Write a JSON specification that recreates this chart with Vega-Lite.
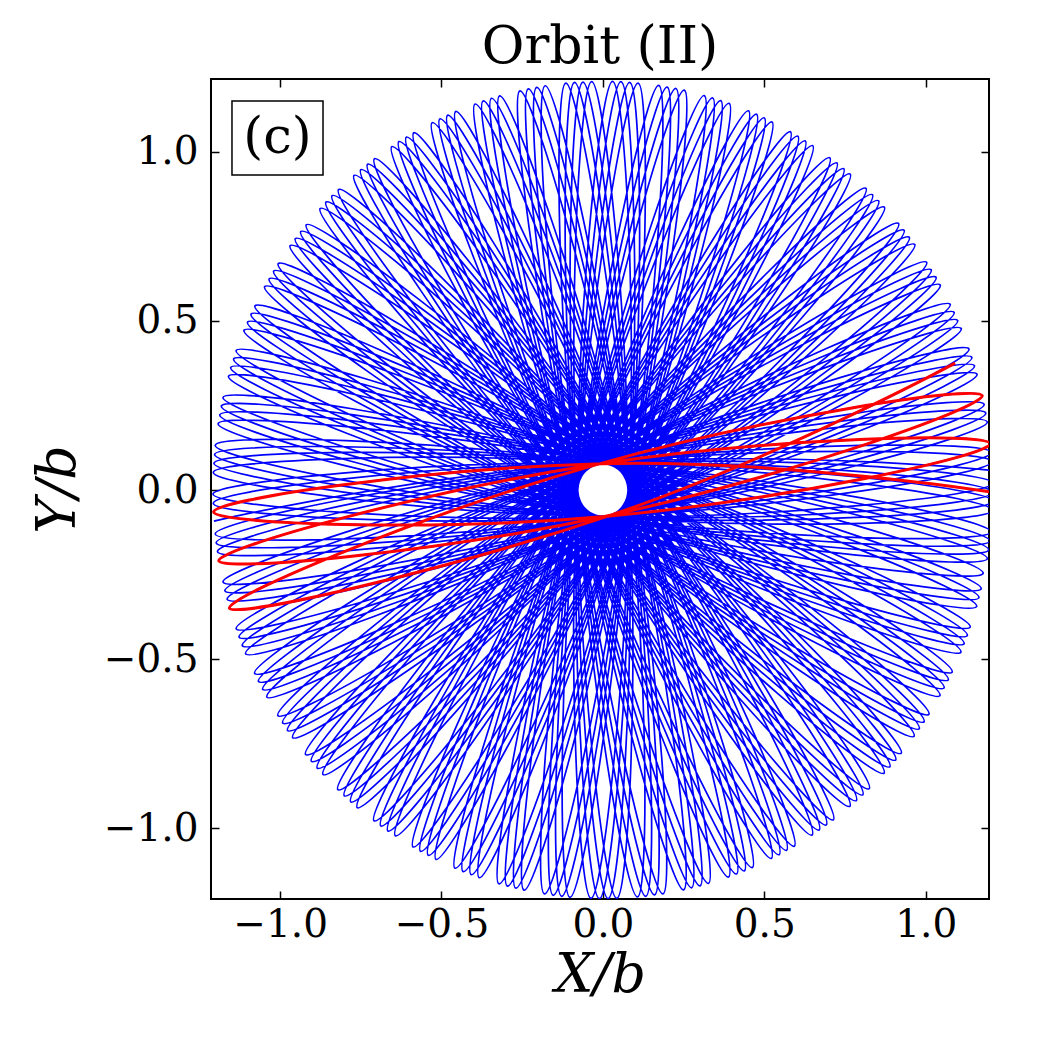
{
  "$schema": "https://vega.github.io/schema/vega-lite/v6.json",
  "width": 778,
  "height": 820,
  "autosize": "none",
  "padding": {"left": 211, "top": 79, "right": 61, "bottom": 151},
  "background": "white",
  "config": {
    "font": "DejaVu Serif",
    "view": {"stroke": "black", "strokeWidth": 2},
    "axis": {
      "grid": false,
      "domain": false,
      "ticks": true,
      "tickColor": "black",
      "tickWidth": 1.5,
      "tickSize": -8,
      "zindex": 1,
      "labelFont": "DejaVu Serif",
      "labelFontSize": 39,
      "labelColor": "black",
      "titleFont": "DejaVu Serif",
      "titleFontStyle": "italic",
      "titleFontWeight": "normal",
      "titleFontSize": 54,
      "titleColor": "black"
    }
  },
  "title": {
    "text": "Orbit (II)",
    "font": "DejaVu Serif",
    "fontSize": 52,
    "fontWeight": "normal",
    "color": "black",
    "anchor": "middle",
    "baseline": "alphabetic",
    "offset": -37
  },
  "datasets": {
    "orbit": [
      {"x":-1.205,"y":-0.092},{"x":-0.004,"y":0.078},
      {"x":1.208,"y":0.020},{"x":-0.001,"y":-0.078},
      {"x":-1.207,"y":0.052},{"x":0.006,"y":0.078},
      {"x":1.202,"y":-0.124},{"x":-0.010,"y":-0.077},
      {"x":-1.192,"y":0.196},{"x":0.015,"y":0.077},
      {"x":1.178,"y":-0.246},{"x":-0.018,"y":-0.076},
      {"x":-1.160,"y":0.336},{"x":0.024,"y":0.074},
      {"x":1.138,"y":-0.405},{"x":-0.028,"y":-0.073},
      {"x":-1.112,"y":0.472},{"x":0.033,"y":0.071},
      {"x":1.082,"y":-0.538},{"x":-0.037,"y":-0.069},
      {"x":-1.048,"y":0.601},{"x":0.041,"y":0.066},
      {"x":1.010,"y":-0.663},{"x":-0.045,"y":-0.064},
      {"x":-0.969,"y":0.722},{"x":0.048,"y":0.061},
      {"x":0.924,"y":-0.778},{"x":-0.052,"y":-0.058},
      {"x":-0.876,"y":0.832},{"x":0.055,"y":0.055},
      {"x":0.825,"y":-0.883},{"x":-0.059,"y":-0.052},
      {"x":-0.771,"y":0.930},{"x":0.061,"y":0.048},
      {"x":0.714,"y":-0.975},{"x":-0.064,"y":-0.044},
      {"x":-0.654,"y":1.015},{"x":0.067,"y":0.040},
      {"x":0.593,"y":-1.053},{"x":-0.069,"y":-0.036},
      {"x":-0.529,"y":1.086},{"x":0.071,"y":0.032},
      {"x":0.463,"y":-1.116},{"x":-0.073,"y":-0.028},
      {"x":-0.396,"y":1.141},{"x":0.074,"y":0.023},
      {"x":0.327,"y":-1.163},{"x":-0.076,"y":-0.019},
      {"x":-0.257,"y":1.180},{"x":0.077,"y":0.014},
      {"x":0.186,"y":-1.194},{"x":-0.077,"y":-0.010},
      {"x":-0.115,"y":1.203},{"x":0.078,"y":0.005},
      {"x":0.043,"y":-1.207},{"x":-0.078,"y":0.000},
      {"x":0.030,"y":1.208},{"x":0.078,"y":-0.004},
      {"x":-0.102,"y":-1.204},{"x":-0.077,"y":0.009},
      {"x":0.173,"y":1.196},{"x":0.077,"y":-0.013},
      {"x":-0.244,"y":-1.183},{"x":-0.076,"y":0.018},
      {"x":0.314,"y":1.166},{"x":0.075,"y":-0.022},
      {"x":-0.383,"y":-1.146},{"x":-0.073,"y":0.027},
      {"x":0.451,"y":1.121},{"x":0.071,"y":-0.031},
      {"x":-0.517,"y":-1.092},{"x":-0.069,"y":0.035},
      {"x":0.581,"y":1.059},{"x":0.067,"y":-0.039},
      {"x":-0.643,"y":-1.022},{"x":-0.065,"y":0.043},
      {"x":0.703,"y":0.982},{"x":0.062,"y":-0.047},
      {"x":-0.761,"y":-0.939},{"x":-0.059,"y":0.051},
      {"x":0.815,"y":0.892},{"x":0.056,"y":-0.054},
      {"x":-0.867,"y":-0.841},{"x":-0.053,"y":0.058},
      {"x":0.916,"y":0.788},{"x":0.049,"y":-0.061},
      {"x":-0.961,"y":-0.732},{"x":-0.045,"y":0.063},
      {"x":1.003,"y":0.673},{"x":0.042,"y":-0.066},
      {"x":-1.041,"y":-0.612},{"x":-0.037,"y":0.068},
      {"x":1.076,"y":0.549},{"x":0.033,"y":-0.070},
      {"x":-1.107,"y":-0.484},{"x":-0.029,"y":0.072},
      {"x":1.134,"y":0.417},{"x":0.025,"y":-0.074},
      {"x":-1.157,"y":-0.349},{"x":-0.020,"y":0.075},
      {"x":1.175,"y":0.279},{"x":0.016,"y":-0.076},
      {"x":-1.190,"y":-0.209},{"x":-0.011,"y":0.077},
      {"x":1.200,"y":0.137},{"x":0.007,"y":-0.078},
      {"x":-1.206,"y":-0.065},{"x":-0.002,"y":0.078},
      {"x":1.208,"y":-0.007},{"x":-0.003,"y":-0.078},
      {"x":-1.205,"y":0.079},{"x":0.007,"y":0.078},
      {"x":1.199,"y":-0.151},{"x":-0.012,"y":-0.077},
      {"x":-1.187,"y":0.222},{"x":0.017,"y":0.076},
      {"x":1.172,"y":-0.292},{"x":-0.021,"y":-0.075},
      {"x":-1.153,"y":0.362},{"x":0.026,"y":0.074},
      {"x":1.129,"y":-0.430},{"x":-0.030,"y":-0.072},
      {"x":-1.101,"y":0.496},{"x":0.034,"y":0.070},
      {"x":1.070,"y":-0.561},{"x":-0.038,"y":-0.068},
      {"x":-1.034,"y":0.624},{"x":0.042,"y":0.066},
      {"x":0.995,"y":-0.685},{"x":-0.046,"y":-0.063},
      {"x":-0.953,"y":0.743},{"x":0.050,"y":0.060},
      {"x":0.907,"y":-0.798},{"x":-0.053,"y":-0.057},
      {"x":-0.858,"y":0.851},{"x":0.057,"y":0.054},
      {"x":0.805,"y":-0.901},{"x":-0.060,"y":-0.050},
      {"x":-0.750,"y":0.947},{"x":0.063,"y":0.047},
      {"x":0.692,"y":-0.990},{"x":-0.065,"y":-0.043},
      {"x":-0.632,"y":1.030},{"x":0.068,"y":0.039},
      {"x":0.569,"y":-1.065},{"x":-0.070,"y":-0.035},
      {"x":-0.505,"y":1.097},{"x":0.072,"y":0.031},
      {"x":0.438,"y":-1.126},{"x":-0.073,"y":-0.026},
      {"x":-0.371,"y":1.150},{"x":0.075,"y":0.022},
      {"x":0.301,"y":-1.170},{"x":-0.076,"y":-0.017},
      {"x":-0.231,"y":1.186},{"x":0.077,"y":0.013},
      {"x":0.160,"y":-1.197},{"x":-0.078,"y":-0.008},
      {"x":-0.088,"y":1.205},{"x":0.078,"y":0.003},
      {"x":0.016,"y":-1.208},{"x":-0.078,"y":0.001},
      {"x":0.056,"y":1.207},{"x":0.078,"y":-0.006},
      {"x":-0.128,"y":-1.201},{"x":-0.077,"y":0.011},
      {"x":0.199,"y":1.191},{"x":0.076,"y":-0.015},
      {"x":-0.270,"y":-1.177},{"x":-0.075,"y":0.020},
      {"x":0.340,"y":1.159},{"x":0.074,"y":-0.024},
      {"x":-0.408,"y":-1.137},{"x":-0.073,"y":0.028},
      {"x":0.476,"y":1.111},{"x":0.071,"y":-0.033},
      {"x":-0.541,"y":-1.080},{"x":-0.069,"y":0.037},
      {"x":0.604,"y":1.046},{"x":0.066,"y":-0.041},
      {"x":-0.666,"y":-1.008},{"x":-0.064,"y":0.045},
      {"x":0.725,"y":0.967},{"x":0.061,"y":-0.049},
      {"x":-0.781,"y":-0.922},{"x":-0.058,"y":0.052},
      {"x":0.835,"y":0.873},{"x":0.055,"y":-0.056},
      {"x":-0.885,"y":-0.822},{"x":-0.051,"y":0.059},
      {"x":0.933,"y":0.768},{"x":0.048,"y":-0.062},
      {"x":-0.977,"y":-0.711},{"x":-0.044,"y":0.064},
      {"x":1.017,"y":0.651},{"x":0.040,"y":-0.067},
      {"x":-1.054,"y":-0.589},{"x":-0.036,"y":0.069},
      {"x":1.088,"y":0.525},{"x":0.032,"y":-0.071},
      {"x":-1.117,"y":-0.460},{"x":-0.028,"y":0.073},
      {"x":1.143,"y":0.392},{"x":0.023,"y":-0.074},
      {"x":-1.164,"y":-0.323},{"x":-0.019,"y":0.076},
      {"x":1.181,"y":0.253},{"x":0.014,"y":-0.077},
      {"x":-1.194,"y":-0.182},{"x":-0.009,"y":0.077},
      {"x":1.203,"y":0.111},{"x":0.005,"y":-0.078},
      {"x":-1.207,"y":-0.039},{"x":0.000,"y":0.078},
      {"x":1.208,"y":-0.033},{"x":-0.004,"y":-0.078},
      {"x":-1.203,"y":0.105},{"x":0.009,"y":0.077},
      {"x":1.195,"y":-0.177},{"x":-0.014,"y":-0.077},
      {"x":-1.182,"y":0.248},{"x":0.018,"y":0.076},
      {"x":1.165,"y":-0.318},{"x":-0.023,"y":-0.075},
      {"x":-1.144,"y":0.387},{"x":0.027,"y":0.073},
      {"x":1.119,"y":-0.454},{"x":-0.031,"y":-0.071},
      {"x":-1.090,"y":0.520},{"x":0.036,"y":0.069},
      {"x":1.057,"y":-0.585},{"x":-0.040,"y":-0.067},
      {"x":-1.020,"y":0.647},{"x":0.044,"y":0.065},
      {"x":0.980,"y":-0.706},{"x":-0.047,"y":-0.062},
      {"x":-0.936,"y":0.764},{"x":0.051,"y":0.059},
      {"x":0.889,"y":-0.818},{"x":-0.054,"y":-0.056},
      {"x":-0.839,"y":0.870},{"x":0.058,"y":0.052},
      {"x":0.785,"y":-0.918},{"x":-0.061,"y":-0.049},
      {"x":-0.729,"y":0.963},{"x":0.064,"y":0.045},
      {"x":0.670,"y":-1.005},{"x":-0.066,"y":-0.041},
      {"x":-0.609,"y":1.043},{"x":0.068,"y":0.037},
      {"x":0.546,"y":-1.078},{"x":-0.071,"y":-0.033},
      {"x":-0.481,"y":1.108},{"x":0.072,"y":0.029},
      {"x":0.414,"y":-1.135},{"x":-0.074,"y":-0.025},
      {"x":-0.345,"y":1.158},{"x":0.075,"y":0.020},
      {"x":0.275,"y":-1.176},{"x":-0.076,"y":-0.016},
      {"x":-0.205,"y":1.190},{"x":0.077,"y":0.011},
      {"x":0.133,"y":-1.201},{"x":-0.078,"y":-0.006},
      {"x":-0.062,"y":1.206},{"x":0.078,"y":0.002},
      {"x":-0.011,"y":-1.208},{"x":-0.078,"y":0.003},
      {"x":0.083,"y":1.205},{"x":0.078,"y":-0.008},
      {"x":-0.154,"y":-1.198},{"x":-0.077,"y":0.012},
      {"x":0.226,"y":1.187},{"x":0.076,"y":-0.017},
      {"x":-0.296,"y":-1.171},{"x":-0.075,"y":0.021},
      {"x":0.365,"y":1.151},{"x":0.074,"y":-0.026},
      {"x":-0.433,"y":-1.128},{"x":-0.072,"y":0.030},
      {"x":0.500,"y":1.100},{"x":0.070,"y":-0.034},
      {"x":-0.565,"y":-1.068},{"x":-0.068,"y":0.038},
      {"x":0.627,"y":1.032},{"x":0.065,"y":-0.042},
      {"x":-0.688,"y":-0.993},{"x":-0.063,"y":0.046},
      {"x":0.746,"y":0.950},{"x":0.060,"y":-0.050},
      {"x":-0.801,"y":-0.904},{"x":-0.057,"y":0.053},
      {"x":0.854,"y":0.855},{"x":0.054,"y":-0.057},
      {"x":-0.903,"y":-0.802},{"x":-0.050,"y":0.060},
      {"x":0.949,"y":0.747},{"x":0.046,"y":-0.063},
      {"x":-0.992,"y":-0.689},{"x":-0.043,"y":0.065},
      {"x":1.032,"y":0.629},{"x":0.039,"y":-0.068},
      {"x":-1.067,"y":-0.566},{"x":-0.035,"y":0.070},
      {"x":1.099,"y":0.501},{"x":0.030,"y":-0.072},
      {"x":-1.127,"y":-0.435},{"x":-0.026,"y":0.074},
      {"x":1.151,"y":0.367},{"x":0.021,"y":-0.075},
      {"x":-1.171,"y":-0.298},{"x":-0.017,"y":0.076},
      {"x":1.186,"y":0.227},{"x":0.012,"y":-0.077},
      {"x":-1.198,"y":-0.156},{"x":-0.008,"y":0.078},
      {"x":1.205,"y":0.084},{"x":0.003,"y":-0.078},
      {"x":-1.208,"y":-0.012},{"x":0.002,"y":0.078},
      {"x":1.207,"y":-0.060},{"x":-0.006,"y":-0.078},
      {"x":-1.201,"y":0.132},{"x":0.011,"y":0.077},
      {"x":1.191,"y":-0.203},{"x":-0.015,"y":-0.076},
      {"x":-1.177,"y":0.274},{"x":0.020,"y":0.075},
      {"x":1.158,"y":-0.344},{"x":-0.024,"y":-0.074},
      {"x":-1.136,"y":0.412},{"x":0.029,"y":0.072},
      {"x":1.109,"y":-0.479},{"x":-0.033,"y":-0.071},
      {"x":-1.078,"y":0.544},{"x":0.037,"y":0.069},
      {"x":1.044,"y":-0.608},{"x":-0.041,"y":-0.066},
      {"x":-1.006,"y":0.669},{"x":0.045,"y":0.064},
      {"x":0.964,"y":-0.728},{"x":-0.049,"y":-0.061},
      {"x":-0.919,"y":0.784},{"x":0.052,"y":0.058},
      {"x":0.871,"y":-0.837},{"x":-0.056,"y":-0.055},
      {"x":-0.819,"y":0.888},{"x":0.059,"y":0.051},
      {"x":0.765,"y":-0.935},{"x":-0.062,"y":-0.048},
      {"x":-0.708,"y":0.979},{"x":0.065,"y":0.044},
      {"x":0.648,"y":-1.020},{"x":-0.067,"y":-0.040},
      {"x":-0.586,"y":1.056},{"x":0.069,"y":0.036},
      {"x":0.522,"y":-1.089},{"x":-0.071,"y":-0.032},
      {"x":-0.456,"y":1.119},{"x":0.073,"y":0.027},
      {"x":0.389,"y":-1.144},{"x":-0.075,"y":-0.023},
      {"x":-0.320,"y":1.165},{"x":0.076,"y":0.018},
      {"x":0.250,"y":-1.182},{"x":-0.077,"y":-0.014},
      {"x":-0.179,"y":1.195},{"x":0.077,"y":0.009},
      {"x":0.107,"y":-1.203},{"x":-0.078,"y":-0.005},
      {"x":-0.035,"y":1.207},{"x":0.078,"y":0.000},
      {"x":-0.037,"y":-1.207},{"x":-0.078,"y":0.005},
      {"x":0.109,"y":1.203},{"x":0.077,"y":-0.009},
      {"x":-0.181,"y":-1.194},{"x":-0.077,"y":0.014},
      {"x":0.252,"y":1.182},{"x":0.076,"y":-0.019},
      {"x":-0.322,"y":-1.164},{"x":-0.075,"y":0.023},
      {"x":0.391,"y":1.143},{"x":0.073,"y":-0.027},
      {"x":-0.458,"y":-1.118},{"x":-0.071,"y":0.032},
      {"x":0.524,"y":1.088},{"x":0.069,"y":-0.036},
      {"x":-0.588,"y":-1.055},{"x":-0.067,"y":0.040},
      {"x":0.650,"y":1.018},{"x":0.064,"y":-0.044},
      {"x":-0.709,"y":-0.978},{"x":-0.062,"y":0.048},
      {"x":0.766,"y":0.934},{"x":0.059,"y":-0.051},
      {"x":-0.821,"y":-0.886},{"x":-0.056,"y":0.055},
      {"x":0.872,"y":0.836},{"x":0.052,"y":-0.058},
      {"x":-0.921,"y":-0.782},{"x":-0.049,"y":0.061},
      {"x":0.966,"y":0.726},{"x":0.045,"y":-0.064},
      {"x":-1.007,"y":-0.667},{"x":-0.041,"y":0.066},
      {"x":1.045,"y":0.606},{"x":0.037,"y":-0.069},
      {"x":-1.079,"y":-0.542},{"x":-0.033,"y":0.071},
      {"x":1.110,"y":0.477},{"x":0.029,"y":-0.073},
      {"x":-1.136,"y":-0.410},{"x":-0.024,"y":0.074},
      {"x":1.159,"y":0.342},{"x":0.020,"y":-0.075},
      {"x":-1.177,"y":-0.272},{"x":-0.015,"y":0.076},
      {"x":1.191,"y":0.201},{"x":0.011,"y":-0.077},
      {"x":-1.201,"y":-0.130},{"x":-0.006,"y":0.078},
      {"x":1.207,"y":0.058}
    ],
    "start": [
      {"x":1.091,"y":0.375},{"x":0.025,"y":-0.074},
      {"x":-1.157,"y":-0.349},{"x":-0.020,"y":0.075},
      {"x":1.175,"y":0.279},{"x":0.016,"y":-0.076},
      {"x":-1.190,"y":-0.209},{"x":-0.011,"y":0.077},
      {"x":1.200,"y":0.137},{"x":0.007,"y":-0.078},
      {"x":-1.206,"y":-0.065},{"x":-0.002,"y":0.078},
      {"x":1.208,"y":-0.007}
    ]
  },
  "layer": [
    {
      "data": {"name": "orbit"},
      "mark": {"type": "line", "color": "#0000ff", "strokeWidth": 1.7, "interpolate": "cardinal", "tension": -0.35, "clip": true},
      "encoding": {
        "x": {"field": "x", "type": "quantitative", "scale": {"domain": [-1.214, 1.196], "nice": false, "zero": false},
              "axis": {"orient": "bottom", "values": [-1, -0.5, 0, 0.5, 1], "format": ".1f", "labelPadding": 14, "title": "X/b", "titlePadding": 4}},
        "y": {"field": "y", "type": "quantitative", "scale": {"domain": [-1.209, 1.215], "nice": false, "zero": false},
              "axis": {"orient": "left", "values": [-1, -0.5, 0, 0.5, 1], "format": ".1f", "labelPadding": 21, "title": "Y/b", "titlePadding": 18}},
        "order": {"value": null}
      }
    },
    {
      "data": {"name": "start"},
      "mark": {"type": "line", "color": "#ff0000", "strokeWidth": 3, "interpolate": "cardinal", "tension": -0.35, "clip": true},
      "encoding": {
        "x": {"field": "x", "type": "quantitative", "scale": {"domain": [-1.214, 1.196], "nice": false, "zero": false},
              "axis": {"orient": "top", "values": [-1, -0.5, 0, 0.5, 1], "labels": false, "title": null}},
        "y": {"field": "y", "type": "quantitative", "scale": {"domain": [-1.209, 1.215], "nice": false, "zero": false},
              "axis": {"orient": "right", "values": [-1, -0.5, 0, 0.5, 1], "labels": false, "title": null}},
        "order": {"value": null}
      }
    },
    {
      "data": {"values": [{}]},
      "mark": {"type": "rect", "fill": "white", "stroke": "black", "strokeWidth": 1.5},
      "encoding": {
        "x": {"datum": -1.149, "type": "quantitative", "axis": null},
        "x2": {"datum": -0.867},
        "y": {"datum": 1.150, "type": "quantitative", "axis": null},
        "y2": {"datum": 0.931}
      }
    },
    {
      "data": {"values": [{}]},
      "mark": {"type": "text", "text": "(c)", "font": "DejaVu Serif", "fontSize": 51, "color": "black", "align": "center", "baseline": "middle"},
      "encoding": {
        "x": {"datum": -1.008, "type": "quantitative", "axis": null},
        "y": {"datum": 1.040, "type": "quantitative", "axis": null}
      }
    }
  ],
  "resolve": {"axis": {"x": "independent", "y": "independent"}}
}
